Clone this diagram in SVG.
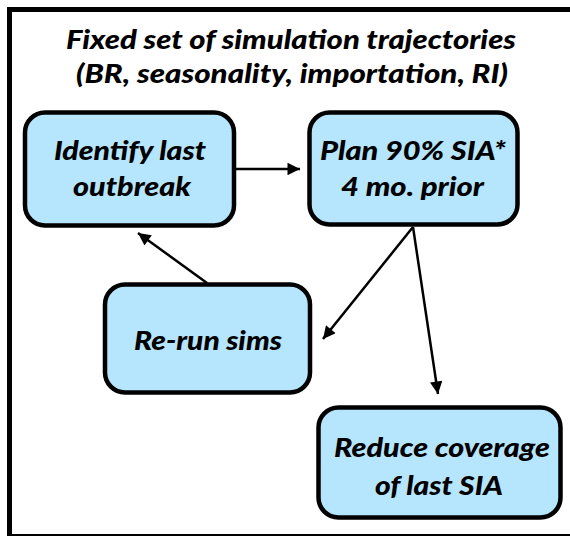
<svg xmlns="http://www.w3.org/2000/svg" width="570" height="536" viewBox="0 0 570 536">
  <style>
    .box { fill: #B6E6FD; stroke: #000; stroke-width: 4.5; }
    .lbl { font-family: Lato, "Open Sans", sans-serif; font-weight: 900; font-style: italic; font-size: 27px; fill: #000; text-anchor: middle; }
    .edge { stroke: #000; stroke-width: 2.5; fill: none; marker-end: url(#arrow); }
  </style>
  <defs>
    <marker id="arrow" viewBox="0 0 10 10" refX="10" refY="5" markerWidth="6" markerHeight="5" orient="auto" markerUnits="strokeWidth">
      <path d="M0,0 L10,5 L0,10 z" fill="#000"/>
    </marker>
  </defs>

  <rect width="570" height="536" fill="#fff"/>

  <!-- outer frame, open past the right edge -->
  <rect x="9.5" y="9.5" width="580" height="527" fill="none" stroke="#000" stroke-width="5"/>

  <g id="title">
    <text class="lbl" x="291" y="49" textLength="450" lengthAdjust="spacingAndGlyphs">Fixed set of simulation trajectories</text>
    <text class="lbl" x="292" y="83" textLength="432" lengthAdjust="spacingAndGlyphs">(BR, seasonality, importation, RI)</text>
  </g>

  <g id="connectors">
    <line class="edge" x1="236" y1="169" x2="300" y2="169"/>
    <line class="edge" x1="207" y1="283" x2="138" y2="233"/>
    <line class="edge" x1="413" y1="227" x2="323" y2="339"/>
    <line class="edge" x1="413" y1="227" x2="438" y2="394"/>
  </g>

  <g id="identify">
    <rect class="box" x="25" y="112.5" width="209" height="113" rx="20"/>
    <text class="lbl" x="130" y="160" textLength="152" lengthAdjust="spacingAndGlyphs">Identify last</text>
    <text class="lbl" x="132" y="196" textLength="118" lengthAdjust="spacingAndGlyphs">outbreak</text>
  </g>

  <g id="plan">
    <rect class="box" x="309.5" y="112.5" width="208" height="112" rx="20"/>
    <text class="lbl" x="413" y="160" textLength="186" lengthAdjust="spacingAndGlyphs">Plan 90% SIA*</text>
    <text class="lbl" x="412.5" y="196" textLength="143" lengthAdjust="spacingAndGlyphs">4 mo. prior</text>
  </g>

  <g id="rerun">
    <rect class="box" x="105" y="284.5" width="205" height="108" rx="20"/>
    <text class="lbl" x="208" y="350" textLength="148" lengthAdjust="spacingAndGlyphs">Re-run sims</text>
  </g>

  <g id="reduce">
    <rect class="box" x="318.5" y="407.5" width="242" height="110" rx="20"/>
    <text class="lbl" x="442" y="457" textLength="216" lengthAdjust="spacingAndGlyphs">Reduce coverage</text>
    <text class="lbl" x="439" y="495" textLength="128" lengthAdjust="spacingAndGlyphs">of last SIA</text>
  </g>
</svg>
